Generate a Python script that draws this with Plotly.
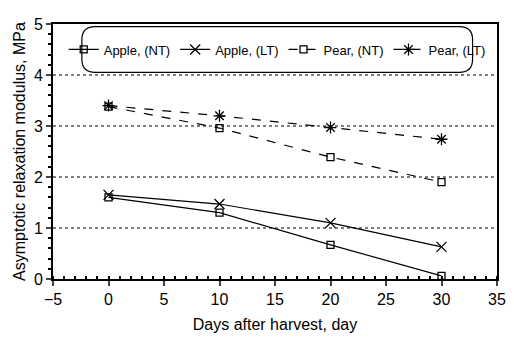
import plotly.graph_objects as go

days = [0, 10, 20, 30]
apple_nt = [1.60, 1.30, 0.67, 0.06]
apple_lt = [1.65, 1.47, 1.10, 0.63]
pear_nt = [3.38, 2.96, 2.39, 1.90]
pear_lt = [3.40, 3.20, 2.97, 2.74]
x_ticks = [-5, 0, 5, 10, 15, 20, 25, 30, 35]
y_ticks = [0, 1, 2, 3, 4, 5]

FONT = "Liberation Sans, Arial, sans-serif"
fig = go.Figure()

def add(name, y, symbol, dash, size):
    fig.add_trace(go.Scatter(
        x=days, y=y, name=name, mode="lines+markers",
        line=dict(color="black", width=1.2, dash=dash),
        marker=dict(symbol=symbol, size=size, color="black",
                    line=dict(color="black", width=1.3)),
    ))

add("Apple, (NT)", apple_nt, "square-open", "solid", 7)
add("Apple, (LT)", apple_lt, "x-thin-open", "solid", 10)
add("Pear, (NT)", pear_nt, "square-open", "dash", 7)
add("Pear, (LT)", pear_lt, "asterisk-open", "dash", 10)

# dotted gridlines at 1..4
for v in y_ticks[1:-1]:
    fig.add_shape(type="line", xref="paper", x0=0, x1=1, yref="y", y0=v, y1=v,
                  line=dict(color="black", width=1.2, dash="dot"), layer="below")

# rounded legend box
x0, x1, y0, y1, r = 0.065, 0.945, 0.81, 0.99, 0.03
ry = r * 450 / 263
path = (f"M {x0+r},{y1} L {x1-r},{y1} Q {x1},{y1} {x1},{y1-ry} "
        f"L {x1},{y0+ry} Q {x1},{y0} {x1-r},{y0} L {x0+r},{y0} "
        f"Q {x0},{y0} {x0},{y0+ry} L {x0},{y1-ry} Q {x0},{y1} {x0+r},{y1} Z")
fig.add_shape(type="path", path=path, xref="paper", yref="paper",
              line=dict(color="black", width=1.2), fillcolor="white")

fig.update_layout(
    width=506, height=332,
    margin=dict(l=45, r=11, t=8, b=61),
    paper_bgcolor="white", plot_bgcolor="white",
    font=dict(family=FONT, color="black"),
    showlegend=True,
    legend=dict(orientation="h", x=0.505, xanchor="center", y=0.90, yanchor="middle",
                font=dict(size=13, family=FONT), itemwidth=30,
                bgcolor="rgba(0,0,0,0)", borderwidth=0,
                tracegroupgap=0),
    xaxis=dict(range=[-5, 35], tickvals=x_ticks, ticks="outside", ticklen=5,
               tickwidth=1.5, showgrid=False, zeroline=False,
               showline=True, linecolor="black", linewidth=2, mirror=True,
               tickfont=dict(size=16, family=FONT),
               minor=dict(dtick=1, ticks="inside", ticklen=3, tickcolor="black"),
               title=dict(text="Days after harvest, day", font=dict(size=16, family=FONT),
                          standoff=12)),
    yaxis=dict(range=[0, 5], tickvals=y_ticks, ticks="outside", ticklen=5,
               tickwidth=1.5, showgrid=False, zeroline=False,
               showline=True, linecolor="black", linewidth=2, mirror=True,
               tickfont=dict(size=16, family=FONT),
               minor=dict(dtick=0.2, ticks="outside", ticklen=3, tickcolor="black"),
               title=dict(text="Asymptotic relaxation modulus, MPa",
                          font=dict(size=16, family=FONT), standoff=4)),
)

fig.write_html("out.html")
